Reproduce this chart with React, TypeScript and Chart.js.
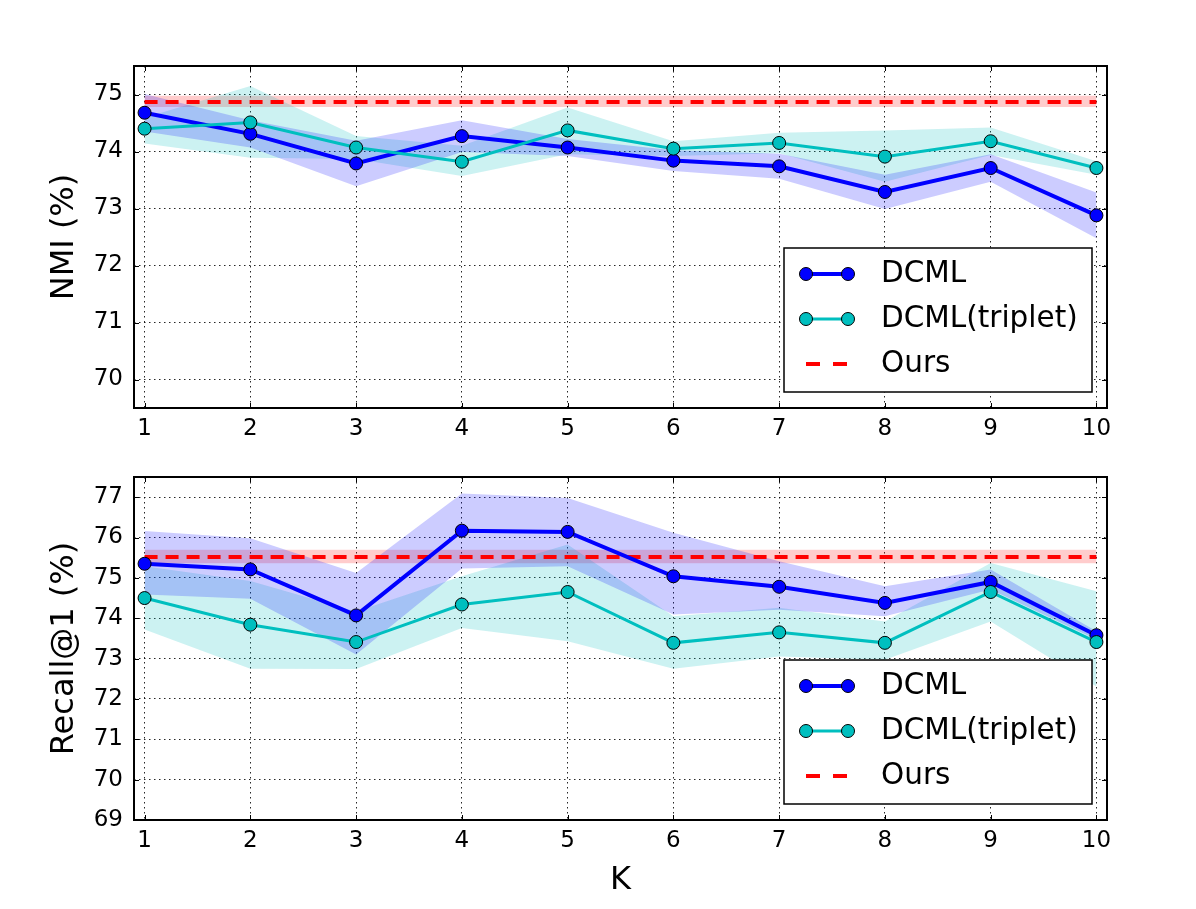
import React, { useEffect, useRef } from 'react';
import { Chart, registerables } from 'chart.js';
Chart.register(...registerables);

const K = [1, 2, 3, 4, 5, 6, 7, 8, 9, 10];
const SERIES = ['DCML', 'DCML(triplet)', 'Ours'];
const NMI_TICKS = [70, 71, 72, 73, 74, 75];
const R1_TICKS = [69, 70, 71, 72, 73, 74, 75, 76, 77];

// NMI (%)
const NMI_DCML = [74.68, 74.31, 73.79, 74.27, 74.07, 73.84, 73.74, 73.29, 73.71, 72.88];
const NMI_DCML_UP = [75.01, 74.55, 74.19, 74.55, 74.22, 74.02, 73.96, 73.59, 73.95, 73.28];
const NMI_DCML_LO = [74.35, 74.07, 73.39, 73.99, 73.92, 73.66, 73.52, 72.99, 73.47, 72.48];
const NMI_TRIP = [74.40, 74.51, 74.07, 73.82, 74.37, 74.05, 74.15, 73.91, 74.18, 73.71];
const NMI_TRIP_UP = [74.59, 75.15, 74.27, 74.10, 74.77, 74.18, 74.33, 74.37, 74.42, 73.83];
const NMI_TRIP_LO = [74.14, 73.89, 73.87, 73.57, 73.95, 73.92, 73.97, 73.47, 73.94, 73.59];
const NMI_OURS = [74.87, 74.87, 74.87, 74.87, 74.87, 74.87, 74.87, 74.87, 74.87, 74.87];
const NMI_OURS_UP = [74.98, 74.98, 74.98, 74.98, 74.98, 74.98, 74.98, 74.98, 74.98, 74.98];
const NMI_OURS_LO = [74.78, 74.78, 74.78, 74.78, 74.78, 74.78, 74.78, 74.78, 74.78, 74.78];

// Recall@1 (%)
const R1_DCML = [75.35, 75.21, 74.07, 76.17, 76.14, 75.04, 74.78, 74.38, 74.90, 73.58];
const R1_DCML_UP = [76.16, 75.98, 75.12, 77.09, 76.98, 76.12, 75.41, 74.79, 75.21, 73.68];
const R1_DCML_LO = [74.59, 74.48, 73.10, 75.23, 75.29, 74.09, 74.21, 74.05, 74.71, 73.47];
const R1_TRIP = [74.50, 73.84, 73.41, 74.34, 74.65, 73.39, 73.65, 73.39, 74.65, 73.41];
const R1_TRIP_UP = [75.29, 74.92, 74.17, 75.04, 75.83, 74.05, 74.26, 73.92, 75.37, 74.67];
const R1_TRIP_LO = [73.72, 72.75, 72.74, 73.76, 73.43, 72.75, 73.05, 72.97, 73.92, 72.31];
const R1_OURS = [75.52, 75.52, 75.52, 75.52, 75.52, 75.52, 75.52, 75.52, 75.52, 75.52];
const R1_OURS_UP = [75.70, 75.70, 75.70, 75.70, 75.70, 75.70, 75.70, 75.70, 75.70, 75.70];
const R1_OURS_LO = [75.36, 75.36, 75.36, 75.36, 75.36, 75.36, 75.36, 75.36, 75.36, 75.36];

const BLUE = '#0000ff';
const CYAN = '#00bfbf';
const RED = '#ff0000';
const FONT = '"DejaVu Sans", Verdana, sans-serif';

const pts = (vals: number[]) => K.map((k, i) => ({ x: k, y: vals[i] }));

const framePlugin = {
  id: 'frame',
  afterDraw(chart: any) {
    const { ctx, chartArea: a, scales } = chart;
    ctx.save();
    // legend
    const bw = 308, bh = 144;
    const bx = a.right - 15 - bw;
    const by = a.bottom - 16 - bh;
    ctx.fillStyle = '#fff';
    ctx.fillRect(bx, by, bw, bh);
    ctx.strokeStyle = '#000';
    ctx.lineWidth = 1.5;
    ctx.strokeRect(bx, by, bw, bh);
    const colors = [BLUE, CYAN, RED];
    const widths = [4, 3, 4];
    SERIES.forEach((name, i) => {
      const cy = by + 26 + i * 45;
      const x1 = bx + 22, x2 = bx + 64;
      ctx.strokeStyle = colors[i];
      ctx.lineWidth = widths[i];
      ctx.beginPath();
      if (i < 2) {
        ctx.moveTo(x1, cy); ctx.lineTo(x2, cy);
      } else {
        ctx.moveTo(x1, cy); ctx.lineTo(x1 + 14, cy);
        ctx.moveTo(x1 + 27, cy); ctx.lineTo(x1 + 41, cy);
      }
      ctx.stroke();
      if (i < 2) {
        [x1, x2].forEach((px) => {
          ctx.beginPath();
          ctx.arc(px, cy, 6.5, 0, Math.PI * 2);
          ctx.fillStyle = colors[i];
          ctx.fill();
          ctx.lineWidth = 1;
          ctx.strokeStyle = '#000';
          ctx.stroke();
        });
      }
      ctx.fillStyle = '#000';
      ctx.font = '29.5px ' + FONT;
      ctx.textBaseline = 'middle';
      ctx.textAlign = 'left';
      ctx.fillText(name, bx + 97, cy);
    });
    // inward ticks
    ctx.strokeStyle = '#000';
    ctx.lineWidth = 1;
    const tl = 5;
    ctx.beginPath();
    scales.x.ticks.forEach((t: any) => {
      const px = Math.round(scales.x.getPixelForValue(t.value)) + 0.5;
      ctx.moveTo(px, a.bottom); ctx.lineTo(px, a.bottom - tl);
      ctx.moveTo(px, a.top); ctx.lineTo(px, a.top + tl);
    });
    scales.y.ticks.forEach((t: any) => {
      const py = Math.round(scales.y.getPixelForValue(t.value)) + 0.5;
      ctx.moveTo(a.left, py); ctx.lineTo(a.left + tl, py);
      ctx.moveTo(a.right, py); ctx.lineTo(a.right - tl, py);
    });
    ctx.stroke();
    ctx.lineWidth = 2;
    ctx.strokeRect(a.left, a.top, a.right - a.left, a.bottom - a.top);
    ctx.restore();
  },
};

function makeConfig(p: any) {
  const band = (up: number[], lo: number[], color: string) => [
    { data: pts(up), borderWidth: 0, borderColor: 'transparent', pointRadius: 0, fill: false, order: 10 },
    { data: pts(lo), borderWidth: 0, borderColor: 'transparent', pointRadius: 0, fill: '-1', backgroundColor: color, order: 10 },
  ];
  return {
    type: 'line',
    data: {
      datasets: [
        { label: SERIES[0], data: pts(p.dcml), borderColor: BLUE, borderWidth: 4, pointRadius: 6.5, pointBackgroundColor: BLUE, pointBorderColor: '#000', pointBorderWidth: 1, fill: false, order: 2 },
        { label: SERIES[1], data: pts(p.trip), borderColor: CYAN, borderWidth: 3, pointRadius: 6.5, pointBackgroundColor: CYAN, pointBorderColor: '#000', pointBorderWidth: 1, fill: false, order: 1 },
        { label: SERIES[2], data: pts(p.ours), borderColor: RED, borderWidth: 4, borderDash: [13, 8], pointRadius: 0, fill: false, order: 3 },
        ...band(p.dcmlUp, p.dcmlLo, 'rgba(0,0,255,0.2)'),
        ...band(p.tripUp, p.tripLo, 'rgba(0,191,191,0.2)'),
        ...band(p.oursUp, p.oursLo, 'rgba(255,0,0,0.2)'),
      ],
    },
    options: {
      responsive: false,
      animation: false,
      devicePixelRatio: 1,
      events: [],
      layout: { padding: { left: 0, right: 89, top: p.padTop, bottom: 0 } },
      plugins: {
        legend: { display: false },
        tooltip: { enabled: false },
        filler: { drawTime: 'beforeDatasetsDraw' },
      },
      elements: { line: { tension: 0 } },
      scales: {
        x: {
          type: 'linear',
          min: 0.9,
          max: 10.1,
          afterFit: (s: any) => { s.height = p.xHeight; },
          afterBuildTicks: (s: any) => { s.ticks = K.map((v) => ({ value: v })); },
          ticks: { stepSize: 1, includeBounds: false, autoSkip: false, maxRotation: 0, padding: 7, color: '#000', font: { size: 23, family: FONT } },
          grid: { color: 'rgba(0,0,0,0.85)', lineWidth: 1, drawTicks: false },
          border: { display: false, dash: [1.5, 3.5] },
          title: p.xTitle
            ? { display: true, text: p.xTitle, color: '#000', font: { size: 32, family: FONT }, padding: { top: 0, bottom: 9 } }
            : { display: false },
        },
        y: {
          type: 'linear',
          min: p.yMin,
          max: p.yMax,
          afterFit: (s: any) => { s.width = 134; },
          afterBuildTicks: (s: any) => { s.ticks = p.yTicks.map((v: number) => ({ value: v })); },
          ticks: { stepSize: 1, includeBounds: false, autoSkip: false, padding: 11, color: '#000', font: { size: 23, family: FONT } },
          grid: { color: 'rgba(0,0,0,0.85)', lineWidth: 1, drawTicks: false },
          border: { display: false, dash: [1.5, 3.5] },
          title: { display: true, text: p.yTitle, color: '#000', font: { size: 32, family: FONT }, padding: { top: 45, bottom: 0 } },
        },
      },
    },
    plugins: [framePlugin],
  };
}

function ChartCanvas({ cfg, top, height }: any) {
  const ref = useRef<HTMLCanvasElement>(null);
  useEffect(() => {
    if (!ref.current) return;
    const chart = new Chart(ref.current, cfg as any);
    return () => chart.destroy();
  }, []);
  return (
    <canvas
      ref={ref}
      width={1196}
      height={height}
      style={{ position: 'absolute', left: 0, top, width: 1196, height }}
    />
  );
}

export default function App() {
  const topCfg = makeConfig({
    dcml: NMI_DCML, dcmlUp: NMI_DCML_UP, dcmlLo: NMI_DCML_LO,
    trip: NMI_TRIP, tripUp: NMI_TRIP_UP, tripLo: NMI_TRIP_LO,
    ours: NMI_OURS, oursUp: NMI_OURS_UP, oursLo: NMI_OURS_LO,
    yMin: 69.5, yMax: 75.5, yTicks: NMI_TICKS, yTitle: 'NMI (%)', padTop: 66, xHeight: 42,
  });
  const botCfg = makeConfig({
    dcml: R1_DCML, dcmlUp: R1_DCML_UP, dcmlLo: R1_DCML_LO,
    trip: R1_TRIP, tripUp: R1_TRIP_UP, tripLo: R1_TRIP_LO,
    ours: R1_OURS, oursUp: R1_OURS_UP, oursLo: R1_OURS_LO,
    yMin: 69, yMax: 77.5, yTicks: R1_TICKS, yTitle: 'Recall@1 (%)', padTop: 27, xHeight: 89, xTitle: 'K',
  });
  return (
    <div style={{ position: 'absolute', left: 0, top: 0, width: 1196, height: 909, background: '#fff' }}>
      <ChartCanvas cfg={topCfg} top={0} height={450} />
      <ChartCanvas cfg={botCfg} top={450} height={459} />
    </div>
  );
}
